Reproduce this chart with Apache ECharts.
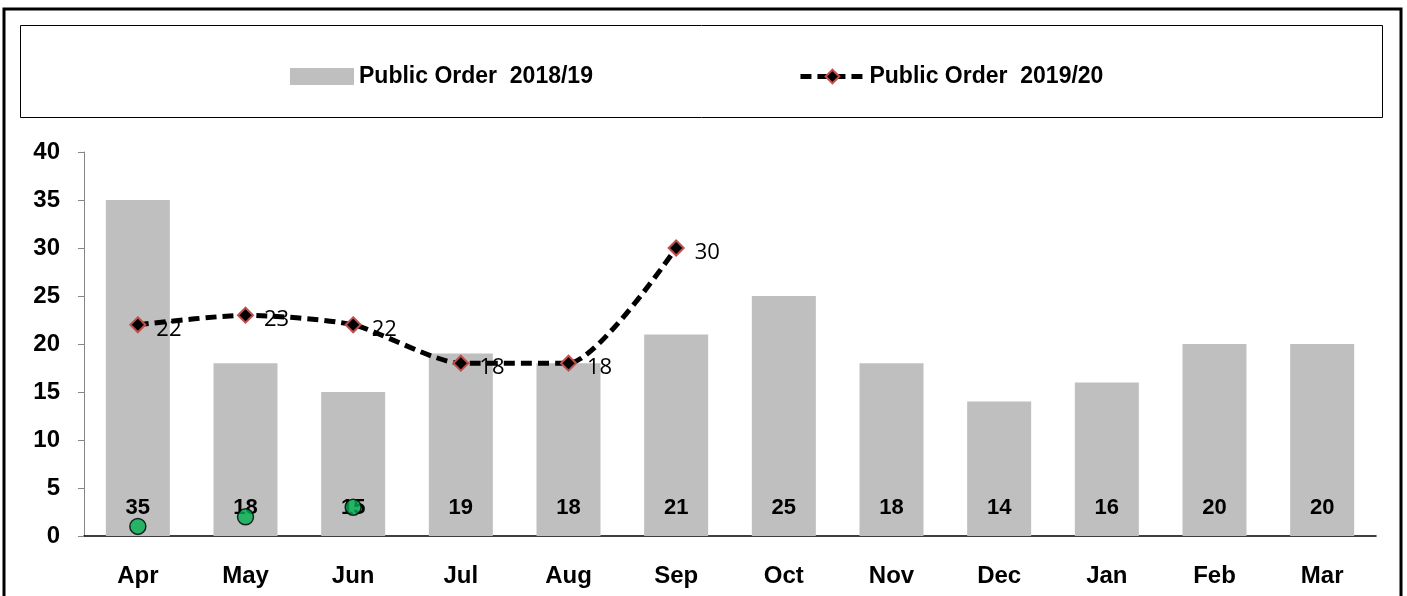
<!DOCTYPE html>
<html>
<head>
    <meta charset="utf-8">
    <title>Public Order</title>
    <script src="https://cdn.jsdelivr.net/npm/echarts@6/dist/echarts.min.js"></script>
    <style>
        html, body { margin: 0; padding: 0; background: #fff; }
        #chart { width: 1407px; height: 596px; }
    </style>
</head>
<body>
    <div id="chart"></div>
    <script type="text/javascript">
        // data
        var months = ['Apr', 'May', 'Jun', 'Jul', 'Aug', 'Sep', 'Oct', 'Nov', 'Dec', 'Jan', 'Feb', 'Mar'];
        var prevYear = [35, 18, 15, 19, 18, 21, 25, 18, 14, 16, 20, 20];
        var thisYear = [22, 23, 22, 18, 18, 30, null, null, null, null, null, null];
        var markers = [1, 2, 3];
        var yTicks = {min: 0, max: 40, interval: 5};

        var prevName = 'Public Order  2018/19';
        var thisName = 'Public Order  2019/20';
        var font = '"Liberation Sans", Arial, sans-serif';

        var myChart = echarts.init(document.getElementById('chart'));

        var option = {
            animation: false,
            textStyle: {fontFamily: font},
            graphic: [
                {   // outer frame
                    type: 'rect', z: -1,
                    shape: {x: 4, y: 9, width: 1397, height: 600},
                    style: {fill: 'none', stroke: '#000', lineWidth: 3}
                },
                {   // legend frame
                    type: 'rect', z: -1,
                    shape: {x: 20.5, y: 25.5, width: 1362, height: 92},
                    style: {fill: 'none', stroke: '#000', lineWidth: 1}
                }
            ],
            legend: {
                top: 60,
                left: 285,
                itemGap: 205,
                itemWidth: 64,
                itemHeight: 17,
                textStyle: {fontSize: 23, fontWeight: 'bold', color: '#000', fontFamily: font},
                data: [
                    {name: prevName, icon: 'rect'},
                    {name: thisName, lineStyle: {width: 5, type: [11, 6]}}
                ]
            },
            grid: {left: 84, right: 31, top: 152, bottom: 60},
            xAxis: {
                type: 'category',
                data: months,
                axisLine: {lineStyle: {color: '#000', width: 1.5}},
                axisTick: {length: 8, lineStyle: {color: '#000', width: 1.5}},
                axisLabel: {fontSize: 24, fontWeight: 'bold', color: '#000', margin: 28, fontFamily: font}
            },
            yAxis: {
                type: 'value',
                min: yTicks.min, max: yTicks.max, interval: yTicks.interval,
                splitLine: {show: false},
                axisLine: {show: true, lineStyle: {color: '#868686', width: 1}},
                axisTick: {show: true, length: 6, lineStyle: {color: '#868686'}},
                axisLabel: {fontSize: 24, fontWeight: 'bold', color: '#000', margin: 24, fontFamily: font}
            },
            series: [
                {
                    name: prevName,
                    type: 'bar',
                    data: prevYear,
                    barWidth: 64,
                    itemStyle: {color: '#bfbfbf'},
                    label: {
                        show: true,
                        position: 'insideBottom',
                        distance: 17,
                        fontSize: 22,
                        fontWeight: 'bold',
                        color: '#000',
                        fontFamily: font
                    }
                },
                {
                    name: thisName,
                    type: 'line',
                    data: thisYear,
                    smooth: 0.22,
                    symbol: 'diamond',
                    symbolSize: 15,
                    z: 4,
                    itemStyle: {color: '#000', borderColor: '#c0504d', borderWidth: 2},
                    lineStyle: {color: '#000', width: 5, type: [11, 6]},
                    label: {
                        show: true,
                        position: 'right',
                        offset: [5, 5],
                        fontSize: 22,
                        color: '#000',
                        fontFamily: '"Open Sans", "Liberation Sans", sans-serif'
                    }
                },
                {
                    name: 'markers',
                    type: 'scatter',
                    data: markers,
                    symbol: 'circle',
                    symbolSize: 16,
                    z: 5,
                    itemStyle: {color: '#00b050', borderColor: '#000', borderWidth: 1.5}
                }
            ]
        };

        myChart.setOption(option);
    </script>
</body>
</html>
